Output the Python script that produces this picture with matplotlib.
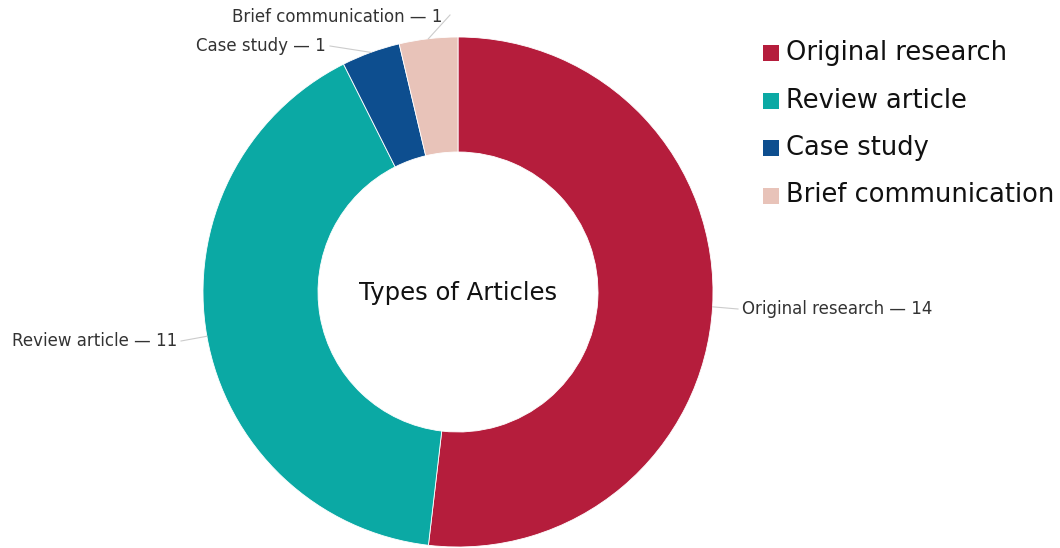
import matplotlib.pyplot as plt
from matplotlib.patches import Rectangle
import numpy as np

categories = ['Original research', 'Review article', 'Case study', 'Brief communication']
counts = [14, 11, 1, 1]
colors = ['#B51D3C', '#0BA9A4', '#0D4E8F', '#E8C3B9']

W, H = 1060, 548
fig = plt.figure(figsize=(W / 100, H / 100), dpi=100)
ax = fig.add_axes([0, 0, 1, 1])

cx, cy = 458, H - 292
r_out, r_in = 255, 140

wedges, _ = ax.pie(counts, colors=colors, startangle=90, counterclock=False,
                   radius=r_out, center=(cx, cy), frame=True,
                   wedgeprops=dict(width=r_out - r_in, edgecolor='white', linewidth=0.6))
ax.set_xlim(0, W)
ax.set_ylim(0, H)
ax.set_aspect('equal')
ax.axis('off')

ax.text(cx, cy - 1, 'Types of Articles', ha='center', va='center', fontsize=17.5, color='#111111')

# outside labels with leader lines
label_pos = {
    'Original research': (742, H - 309, 'left'),
    'Review article': (177, H - 341, 'right'),
    'Case study': (326, H - 46, 'right'),
    'Brief communication': (442, H - 17, 'right'),
}
for w, name, n in zip(wedges, categories, counts):
    mid = np.deg2rad((w.theta1 + w.theta2) / 2)
    px, py = cx + r_out * np.cos(mid), cy + r_out * np.sin(mid)
    tx, ty, ha = label_pos[name]
    lx = tx - 4 if ha == 'left' else tx + 4
    if name == 'Brief communication':
        ax.plot([px, tx + 8], [py, ty + 2], color='#cccccc', lw=0.8)
    else:
        ax.plot([px, lx], [py, ty], color='#cccccc', lw=0.8)
    ax.text(tx, ty, f'{name} \u2014 {n}', ha=ha, va='center', fontsize=12, color='#333333')

# legend
for i, (name, c) in enumerate(zip(categories, colors)):
    y = H - (53 + i * 47.5)
    ax.add_patch(Rectangle((763, y - 8), 16, 16, facecolor=c, edgecolor='none'))
    ax.text(786, y, name, ha='left', va='center', fontsize=18.5, color='#111111')

fig.savefig('out.png', dpi=100)
